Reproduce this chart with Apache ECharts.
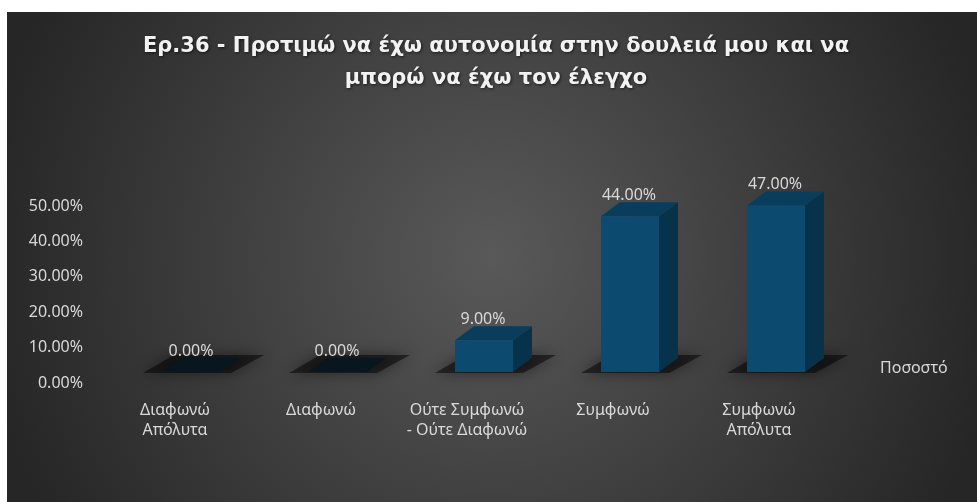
<!DOCTYPE html>
<html>
<head>
<meta charset="utf-8">
<script src="https://cdn.jsdelivr.net/npm/echarts@6/dist/echarts.min.js"></script>
<style>
  html, body { margin: 0; padding: 0; background: #ffffff; }
  #chart { position: absolute; left: 7px; top: 12px; width: 970px; height: 490px; }
</style>
</head>
<body>
<div id="chart"></div>
<script>
// Survey answers and their shares
const categories = [
  'Διαφωνώ\nΑπόλυτα',
  'Διαφωνώ',
  'Ούτε Συμφωνώ\n- Ούτε Διαφωνώ',
  'Συμφωνώ',
  'Συμφωνώ\nΑπόλυτα'
];
const shares = [0, 0, 0.09, 0.44, 0.47];
const seriesName = 'Ποσοστό';
const titleLines = [
  'Ερ.36 - Προτιμώ να έχω αυτονομία στην δουλειά μου και να',
  'μπορώ να έχω τον έλεγχο'
];
const axisMin = 0, axisMax = 0.5, axisStep = 0.1;

const pct = v => (v * 100).toFixed(2) + '%';

// pseudo-3D column geometry (pixels)
const FRONT_W = 58;      // width of the front face
const DEPTH_X = 19;      // horizontal depth of top/side faces
const DEPTH_Y = -14;     // vertical depth of top/side faces
const SHIFT_X = 17;      // columns sit slightly right of the category label
const SHIFT_Y = -11;     // floor of the columns sits above the axis line

const TEXT = '#d9d9d9';
const FONT = 'Noto Sans';

const chart = echarts.init(document.getElementById('chart'));

function renderColumn(params, api) {
  const idx = api.value(0);
  const val = api.value(1);
  const base = api.coord([idx, 0]);
  const top = api.coord([idx, val]);
  const cx = base[0] + SHIFT_X;
  const by = base[1] + SHIFT_Y;
  const ty = top[1] + SHIFT_Y;
  const xl = cx - FRONT_W / 2, xr = cx + FRONT_W / 2;
  const dx = DEPTH_X, dy = DEPTH_Y;
  const children = [];

  // soft floor shadow
  children.push({
    type: 'polygon',
    shape: { points: [[xl - 20, by + 1], [xr + 10, by + 1], [xr + dx + 24, by + dy - 3], [xl + dx - 8, by + dy - 3]] },
    style: { fill: 'rgba(0,0,0,0.5)', shadowBlur: 14, shadowColor: 'rgba(0,0,0,0.9)' },
    silent: true
  });

  const flat = (by - ty) < 1;
  if (flat) {
    children.push({
      type: 'polygon',
      shape: { points: [[xl, by], [xr, by], [xr + dx, by + dy], [xl + dx, by + dy]] },
      style: { fill: '#08161f' }
    });
  } else {
    // side face
    children.push({
      type: 'polygon',
      shape: { points: [[xr, by], [xr + dx, by + dy], [xr + dx, ty + dy], [xr, ty]] },
      style: { fill: '#06324b' }
    });
    // top face
    children.push({
      type: 'polygon',
      shape: { points: [[xl, ty], [xr, ty], [xr + dx, ty + dy], [xl + dx, ty + dy]] },
      style: { fill: '#0a3d5b' }
    });
    // front face
    children.push({
      type: 'rect',
      shape: { x: xl, y: ty, width: FRONT_W, height: by - ty },
      style: { fill: '#0c4b6f' }
    });
  }

  // value label above the back edge
  children.push({
    type: 'text',
    style: {
      x: cx - 1,
      y: ty + dy - 7,
      text: pct(val),
      fill: TEXT,
      font: '16px "' + FONT + '"',
      align: 'center',
      verticalAlign: 'middle'
    }
  });

  return { type: 'group', children };
}

chart.setOption({
  backgroundColor: {
    type: 'radial', x: 0.5, y: 0.5, r: 1.05,
    colorStops: [
      { offset: 0, color: '#595959' },
      { offset: 1, color: '#262626' }
    ]
  },
  animation: false,
  graphic: [{
    type: 'text',
    x: 489,
    y: 19,
    style: {
      text: titleLines.join('\n'),
      fill: '#f2f2f2',
      font: 'bold 21px "DejaVu Sans"',
      lineHeight: 32,
      align: 'center',
      verticalAlign: 'top',
      textShadowColor: 'rgba(0,0,0,0.6)',
      textShadowBlur: 3,
      textShadowOffsetX: 1,
      textShadowOffsetY: 1
    }
  }],
  legend: {
    data: [seriesName],
    icon: 'none',
    itemWidth: 0,
    left: 863,
    top: 343,
    textStyle: { color: TEXT, fontSize: 16, fontFamily: FONT }
  },
  grid: { left: 95, right: 145, top: 194, bottom: 119 },
  xAxis: {
    type: 'category',
    data: categories,
    axisLine: { show: false },
    axisTick: { show: false },
    axisLabel: {
      color: TEXT, fontSize: 16, fontFamily: FONT,
      lineHeight: 20, margin: 17, interval: 0
    }
  },
  yAxis: {
    type: 'value',
    min: axisMin, max: axisMax, interval: axisStep,
    axisLine: { show: false },
    axisTick: { show: false },
    splitLine: { show: false },
    axisLabel: {
      color: TEXT, fontSize: 16, fontFamily: FONT,
      margin: 19, formatter: v => pct(v)
    }
  },
  series: [{
    name: seriesName,
    type: 'custom',
    renderItem: renderColumn,
    data: shares.map((v, i) => [i, v]),
    encode: { x: 0, y: 1 },
    clip: false
  }]
});
</script>
</body>
</html>
